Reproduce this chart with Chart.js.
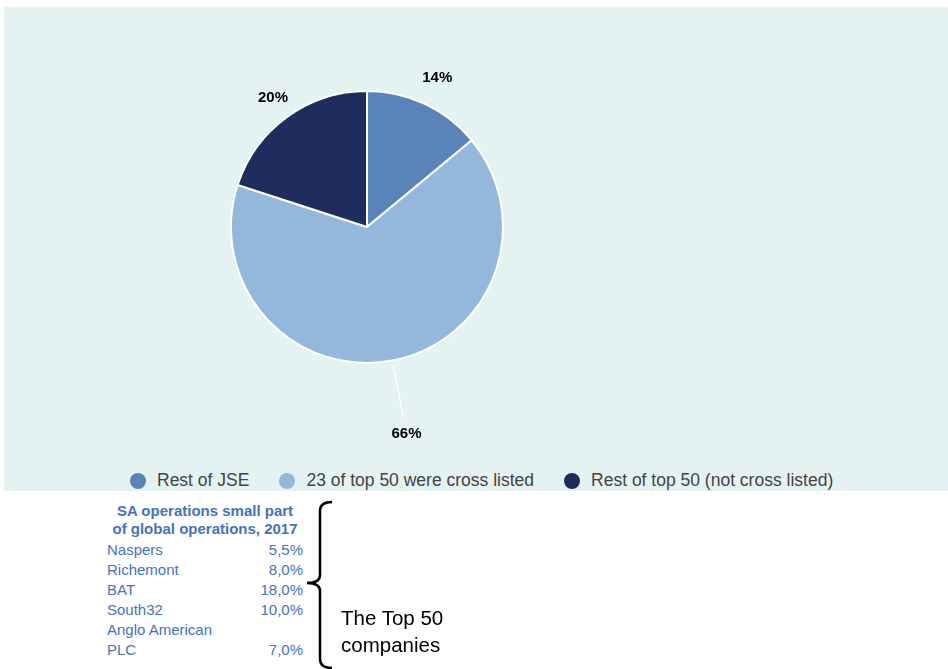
<!DOCTYPE html>
<html>
<head>
<meta charset="utf-8">
<script src="https://cdn.jsdelivr.net/npm/chart.js@4.4.0/dist/chart.umd.min.js"></script>
<style>
  body { margin: 0; background: #fff; font-family: "Liberation Sans", Arial, sans-serif; }
  #panel { position: absolute; left: 4px; top: 7px; width: 944px; height: 484px; background: #e5f2f2; }
  #chartBox { position: absolute; left: 4px; top: 7px; width: 944px; height: 440px; }
  #legend { position: absolute; left: 130px; top: 470px; display: flex; align-items: center; font-size: 17.5px; color: #444; }
  #legend .item { display: flex; align-items: center; margin-right: 30px; }
  #legend .dot { width: 16px; height: 16px; border-radius: 50%; margin-right: 11px; }
  #table { position: absolute; left: 107px; top: 502px; width: 196px; color: #4472c4; font-size: 15px; }
  #table .head { font-weight: bold; text-align: center; line-height: 18px; margin-bottom: 2px; }
  #table table { border-collapse: collapse; width: 100%; }
  #table td { padding: 0; line-height: 20px; vertical-align: bottom; }
  #table td.v { text-align: right; }
  #note { position: absolute; left: 341px; top: 604px; font-size: 20.5px; line-height: 27px; color: #000; }
</style>
</head>
<body>
<div id="panel"></div>
<div id="chartBox"><canvas id="myChart"></canvas></div>
<div id="legend"></div>
<div id="table">
  <div class="head">SA operations small part<br>of global operations, 2017</div>
  <table id="ops"></table>
</div>
<svg width="948" height="669" style="position:absolute;left:0;top:0">
  <path d="M332,502 Q320,502 320,511 L320,575 Q320,583 307,583 Q320,583 320,591 L320,659 Q320,668 332,668"
        fill="none" stroke="#000" stroke-width="2.5"/>
</svg>
<div id="note">The Top 50<br>companies</div>

<script>
var labels = ['Rest of JSE', '23 of top 50 were cross listed', 'Rest of top 50 (not cross listed)'];
var shares = [14, 66, 20];
var colors = ['#5a84b9', '#94b8db', '#1f2d5e'];

var companies = ['Naspers', 'Richemont', 'BAT', 'South32', 'Anglo American PLC'];
var saShare = ['5,5%', '8,0%', '18,0%', '10,0%', '7,0%'];

// how far outside the pie each percentage sits
var labelGap = [29, 75, 24];

const pieLabels = {
    id: 'pieLabels',
    afterDatasetsDraw: function (chart) {
        var ctx = chart.ctx;
        var arcs = chart.getDatasetMeta(0).data;
        ctx.save();
        ctx.font = 'bold 15px "Liberation Sans", Arial, sans-serif';
        ctx.fillStyle = '#000';
        ctx.textAlign = 'center';
        ctx.textBaseline = 'middle';
        for (var i = 0; i < arcs.length; i++) {
            var a = arcs[i];
            var mid = (a.startAngle + a.endAngle) / 2;
            var r = a.outerRadius + labelGap[i];
            if (labelGap[i] > 40) {
                ctx.strokeStyle = 'rgba(255,255,255,0.85)';
                ctx.lineWidth = 1.5;
                ctx.beginPath();
                ctx.moveTo(a.x + Math.cos(mid) * (a.outerRadius + 4), a.y + Math.sin(mid) * (a.outerRadius + 4));
                ctx.lineTo(a.x + Math.cos(mid) * (r - 17), a.y + Math.sin(mid) * (r - 17));
                ctx.stroke();
            }
            ctx.fillText(shares[i] + '%', a.x + Math.cos(mid) * r, a.y + Math.sin(mid) * r);
        }
        ctx.restore();
    }
};

const data = {
    labels: labels,
    datasets: [{
        data: shares,
        backgroundColor: colors,
        borderColor: '#ffffff',
        borderWidth: 2
    }]
};

const config = {
    type: 'pie',
    data: data,
    options: {
        responsive: true,
        maintainAspectRatio: false,
        animation: false,
        layout: { padding: { left: 226, right: 444, top: 83, bottom: 83 } },
        plugins: {
            legend: { display: false },
            tooltip: { enabled: false }
        }
    },
    plugins: [pieLabels]
};

const myChart = new Chart(document.getElementById('myChart'), config);

// legend from the chart's own labels / colours
var legend = document.getElementById('legend');
for (var i = 0; i < labels.length; i++) {
    var item = document.createElement('div');
    item.className = 'item';
    item.innerHTML = '<span class="dot" style="background:' + colors[i] + '"></span><span>' + labels[i] + '</span>';
    legend.appendChild(item);
}

var tbl = document.getElementById('ops');
for (var j = 0; j < companies.length; j++) {
    var tr = document.createElement('tr');
    tr.innerHTML = '<td style="width:125px">' + companies[j] + '</td><td class="v">' + saShare[j] + '</td>';
    tbl.appendChild(tr);
}
</script>
</body>
</html>
